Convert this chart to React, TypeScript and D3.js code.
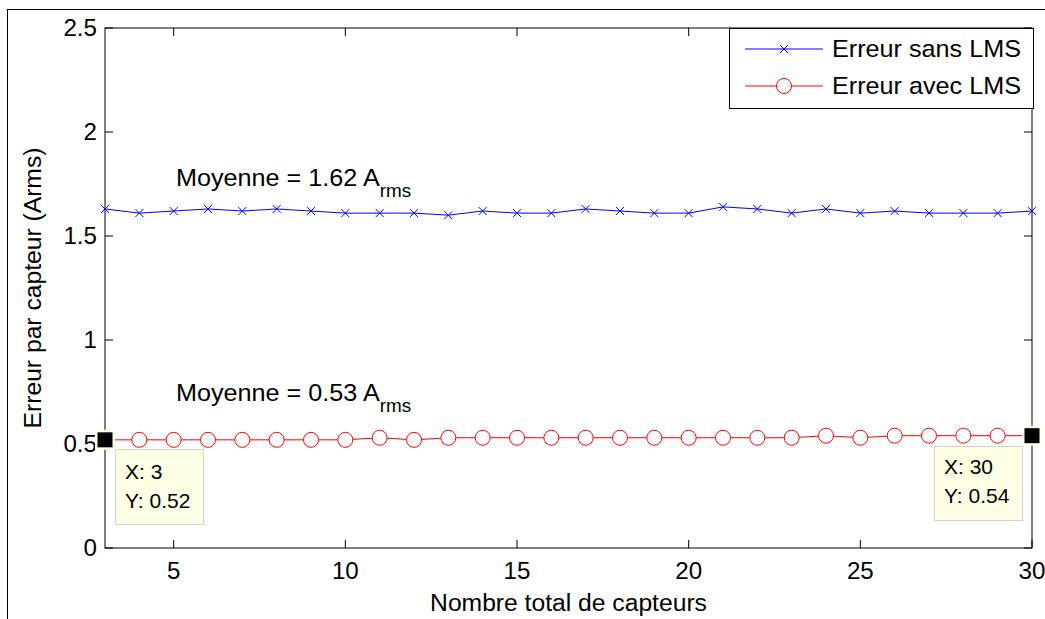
import React from "react";
import * as d3 from "d3";

// Number of sensors (x) and per-sensor error (Arms) for both methods
const capteurs = d3.range(3, 31);
const erreurSansLMS = [
  1.63, 1.61, 1.62, 1.63, 1.62, 1.63, 1.62, 1.61, 1.61, 1.61,
  1.60, 1.62, 1.61, 1.61, 1.63, 1.62, 1.61, 1.61, 1.64, 1.63,
  1.61, 1.63, 1.61, 1.62, 1.61, 1.61, 1.61, 1.62,
];
const erreurAvecLMS = [
  0.52, 0.52, 0.52, 0.52, 0.52, 0.52, 0.52, 0.52, 0.53, 0.52,
  0.53, 0.53, 0.53, 0.53, 0.53, 0.53, 0.53, 0.53, 0.53, 0.53,
  0.53, 0.54, 0.53, 0.54, 0.54, 0.54, 0.54, 0.54,
];
const xTicks = [5, 10, 15, 20, 25, 30];
const yTicks = [0, 0.5, 1, 1.5, 2, 2.5];
const legendLabels = ["Erreur sans LMS", "Erreur avec LMS"];
const moyennes = [1.62, 0.53];
// Data tips pinned on the first and last point of the LMS curve
const dataTipIdx = [0, 27];

const W = 1045;
const H = 619;
const L = 105, R = 1032, T = 28, B = 548;
const FONT = "'Liberation Sans', Arial, Helvetica, sans-serif";
// Helvetica-like text rendered slightly wide
const SX = 1.05;

function WideText(props: {
  x: number;
  y: number;
  size: number;
  anchor?: "start" | "middle" | "end";
  rotate?: number;
  children: React.ReactNode;
}) {
  const { x, y, size, anchor = "start", rotate = 0, children } = props;
  return (
    <text
      transform={`translate(${x},${y}) rotate(${rotate}) scale(${SX},1)`}
      fontSize={size}
      fontFamily={FONT}
      textAnchor={anchor}
      fill="#000"
    >
      {children}
    </text>
  );
}

export default function App() {
  const x = d3.scaleLinear().domain([3, 30]).range([L, R]);
  const y = d3.scaleLinear().domain([0, 2.5]).range([B, T]);
  const line = d3
    .line<number>()
    .x((_, i) => x(capteurs[i]))
    .y((d) => y(d));

  const tick = 8;
  const blue = "#0000ff";
  const red = "#ff0000";

  const cross = (cx: number, cy: number, s: number, key?: any) => (
    <path
      key={key}
      d={`M${cx - s},${cy - s}L${cx + s},${cy + s}M${cx - s},${cy + s}L${cx + s},${cy - s}`}
      stroke={blue}
      strokeWidth={1}
      fill="none"
    />
  );

  const meanLabel = (val: number, xx: number, yy: number) => (
    <WideText x={xx} y={yy} size={24}>
      {`Moyenne = ${val.toFixed(2)} A`}
      <tspan fontSize={18} dy={11}>
        rms
      </tspan>
    </WideText>
  );

  const tip0 = dataTipIdx[0];
  const tip1 = dataTipIdx[1];

  return (
    <svg
      width={W}
      height={H}
      style={{ position: "absolute", left: 0, top: 0, background: "#fff" }}
    >
      <rect x={0} y={0} width={W} height={H} fill="#fff" />
      {/* outer figure frame */}
      <rect x={7.5} y={9.5} width={W} height={H} fill="none" stroke="#000" strokeWidth={1} />

      {/* axes box */}
      <rect x={L} y={T} width={R - L} height={B - T} fill="#fff" stroke="#000" strokeWidth={1} />

      {/* ticks (mirrored on all four sides) */}
      {xTicks.map((t) => (
        <g key={"xt" + t}>
          <line x1={x(t)} x2={x(t)} y1={B} y2={B - tick} stroke="#000" />
          <line x1={x(t)} x2={x(t)} y1={T} y2={T + tick} stroke="#000" />
          <WideText x={x(t)} y={B + 31} size={23} anchor="middle">
            {t}
          </WideText>
        </g>
      ))}
      {yTicks.map((t) => (
        <g key={"yt" + t}>
          <line x1={L} x2={L + tick} y1={y(t)} y2={y(t)} stroke="#000" />
          <line x1={R} x2={R - tick} y1={y(t)} y2={y(t)} stroke="#000" />
          <WideText x={L - 8} y={y(t) + 8} size={23} anchor="end">
            {t}
          </WideText>
        </g>
      ))}

      {/* axis titles */}
      <WideText x={(L + R) / 2} y={611} size={23.5} anchor="middle">
        Nombre total de capteurs
      </WideText>
      <WideText x={41} y={(T + B) / 2} size={23.5} anchor="middle" rotate={-90}>
        Erreur par capteur (Arms)
      </WideText>

      {/* series without LMS */}
      <path d={line(erreurSansLMS) || ""} fill="none" stroke={blue} strokeWidth={1} />
      {erreurSansLMS.map((v, i) => cross(x(capteurs[i]), y(v), 4, "c" + i))}

      {/* series with LMS */}
      <path d={line(erreurAvecLMS) || ""} fill="none" stroke={red} strokeWidth={1} />
      {erreurAvecLMS.map((v, i) => (
        <circle
          key={"o" + i}
          cx={x(capteurs[i])}
          cy={y(v)}
          r={7.5}
          fill="#fff"
          stroke={red}
          strokeWidth={1}
        />
      ))}

      {/* mean annotations */}
      {meanLabel(moyennes[0], 176, 186)}
      {meanLabel(moyennes[1], 176, 401)}

      {/* data tips */}
      {[tip0, tip1].map((idx) => {
        const px = x(capteurs[idx]);
        const py = y(erreurAvecLMS[idx]);
        return (
          <g key={"tipm" + idx}>
            <rect x={px - 10} y={py - 10} width={20} height={20} fill="#ffffe6" />
            <rect x={px - 7.5} y={py - 7.5} width={15} height={15} fill="#000" />
          </g>
        );
      })}
      {/* tip box for x = 3 */}
      <g>
        <rect
          x={115.5}
          y={449.5}
          width={88}
          height={75}
          fill="#ffffe6"
          stroke="#d4d4c8"
          strokeWidth={1}
        />
        <WideText x={125} y={479} size={20}>
          {`X: ${capteurs[tip0]}`}
        </WideText>
        <WideText x={125} y={508} size={20}>
          {`Y: ${erreurAvecLMS[tip0].toFixed(2)}`}
        </WideText>
      </g>
      {/* tip box for x = 30 */}
      <g>
        <rect
          x={934.5}
          y={446.5}
          width={88}
          height={74}
          fill="#ffffe6"
          stroke="#d4d4c8"
          strokeWidth={1}
        />
        <WideText x={944} y={474} size={20}>
          {`X: ${capteurs[tip1]}`}
        </WideText>
        <WideText x={944} y={503} size={20}>
          {`Y: ${erreurAvecLMS[tip1].toFixed(2)}`}
        </WideText>
      </g>

      {/* legend */}
      <g>
        <rect x={729.5} y={28.5} width={304} height={80} fill="#fff" stroke="#000" strokeWidth={1} />
        <line x1={745} x2={823} y1={49} y2={49} stroke={blue} strokeWidth={1} />
        {cross(784, 49, 4)}
        <WideText x={832} y={57} size={24}>
          {legendLabels[0]}
        </WideText>
        <line x1={745} x2={823} y1={86} y2={86} stroke={red} strokeWidth={1} />
        <circle cx={784} cy={86} r={7.5} fill="#fff" stroke={red} strokeWidth={1} />
        <WideText x={832} y={94} size={24}>
          {legendLabels[1]}
        </WideText>
      </g>
    </svg>
  );
}
